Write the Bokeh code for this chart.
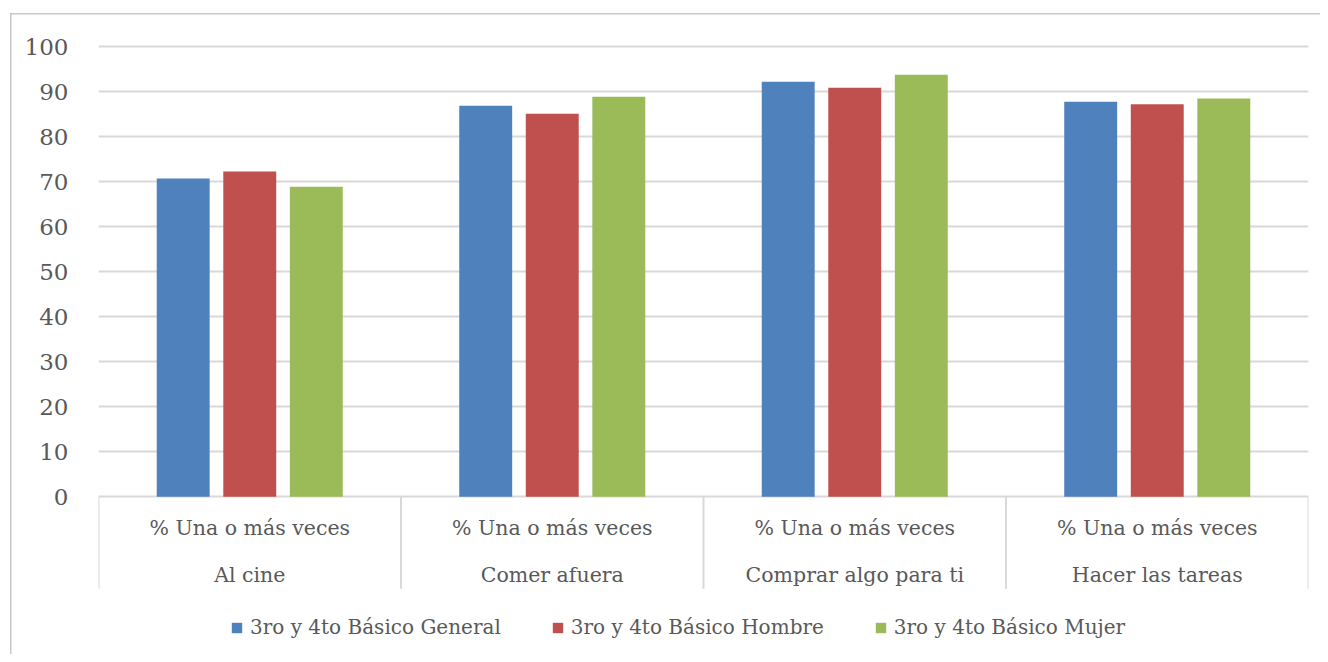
from bokeh.plotting import figure
from bokeh.models import (ColumnDataSource, FactorRange, FixedTicker, Legend, LegendItem)
from bokeh.transform import dodge
from bokeh.core.properties import value
from bokeh.embed import file_html
from bokeh.resources import INLINE

categories = ["Al cine", "Comer afuera", "Comprar algo para ti", "Hacer las tareas"]
sub_label = "% Una o más veces"
general = [70.7, 86.9, 92.2, 87.8]
hombre = [72.3, 85.1, 90.9, 87.2]
mujer = [68.9, 88.9, 93.8, 88.5]
series_names = ["3ro y 4to Básico General", "3ro y 4to Básico Hombre", "3ro y 4to Básico Mujer"]
colors = ["#4F81BD", "#C0504D", "#9BBB59"]
y_ticks = list(range(0, 101, 10))

FONT = "DejaVu Serif"
TXT = "#595959"
Y_LOW = -20.44     # bottom of the category label band
Y_FRAME = -34.61   # bottom of the frame (room for the legend)

src = ColumnDataSource(dict(cat=categories, general=general, hombre=hombre, mujer=mujer,
                            sub=[sub_label] * len(categories),
                            y_sub=[-6.9] * len(categories),
                            y_cat=[-17.3] * len(categories),
                            y0=[0] * len(categories),
                            y1=[Y_LOW] * len(categories)))

p = figure(x_range=FactorRange(*categories, range_padding=0), y_range=(Y_FRAME, 100.5),
           width=1320, height=654, output_backend="svg", toolbar_location=None,
           min_border_left=98, min_border_right=12, min_border_top=44, min_border_bottom=2)
p.border_fill_color = None
p.background_fill_color = None
p.styles = {
    "background-color": "white",
    "background-image": "linear-gradient(#c8c8c8, #c8c8c8), linear-gradient(#c8c8c8, #c8c8c8)",
    "background-size": "1.5px calc(100% - 13px), calc(100% - 10px) 1.5px",
    "background-position": "10px 13px, 10px 13px",
    "background-repeat": "no-repeat",
}
p.outline_line_color = None
p.xaxis.visible = False
p.xgrid.visible = False

p.yaxis.ticker = FixedTicker(ticks=y_ticks)
p.yaxis.axis_line_color = None
p.yaxis.major_tick_line_color = None
p.yaxis.minor_tick_line_color = None
p.yaxis.major_label_text_font = FONT
p.yaxis.major_label_text_font_size = "23px"
p.yaxis.major_label_text_color = TXT
p.yaxis.major_label_standoff = 24
p.ygrid.grid_line_color = "#d9d9d9"
p.ygrid.grid_line_width = 2

offsets = [-0.22, 0.0, 0.22]
fields = ["general", "hombre", "mujer"]
renderers = []
for f, off, c in zip(fields, offsets, colors):
    r = p.vbar(x=dodge("cat", off, range=p.x_range), top=f, bottom=0, width=0.175,
               source=src, fill_color=c, line_color=None)
    renderers.append(r)

# category separators
p.segment(x0=dodge("cat", -0.5, range=p.x_range), y0="y0",
          x1=dodge("cat", -0.5, range=p.x_range), y1="y1",
          source=src, line_color="#d9d9d9", line_width=2)
last = ColumnDataSource(dict(cat=[categories[-1]], y0=[0], y1=[Y_LOW]))
p.segment(x0=dodge("cat", 0.5, range=p.x_range), y0="y0",
          x1=dodge("cat", 0.5, range=p.x_range), y1="y1",
          source=last, line_color="#d9d9d9", line_width=2)

# axis labels (two rows)
p.text(x="cat", y="y_sub", text="sub", source=src, text_align="center", text_baseline="middle",
       text_font=value(FONT), text_font_size="20.5px", text_color=TXT)
p.text(x="cat", y="y_cat", text="cat", source=src, text_align="center", text_baseline="middle",
       text_font=value(FONT), text_font_size="20.5px", text_color=TXT)

legend = Legend(items=[LegendItem(label=n, renderers=[r]) for n, r in zip(series_names, renderers)],
                orientation="horizontal", location=(132, 13),
                glyph_width=13, glyph_height=13, label_standoff=7, spacing=50,
                label_text_font=FONT, label_text_font_size="20px", label_text_color=TXT,
                border_line_color=None, background_fill_alpha=0, margin=0, padding=5)
p.add_layout(legend)

open("out.html", "w").write(file_html(p, INLINE))
